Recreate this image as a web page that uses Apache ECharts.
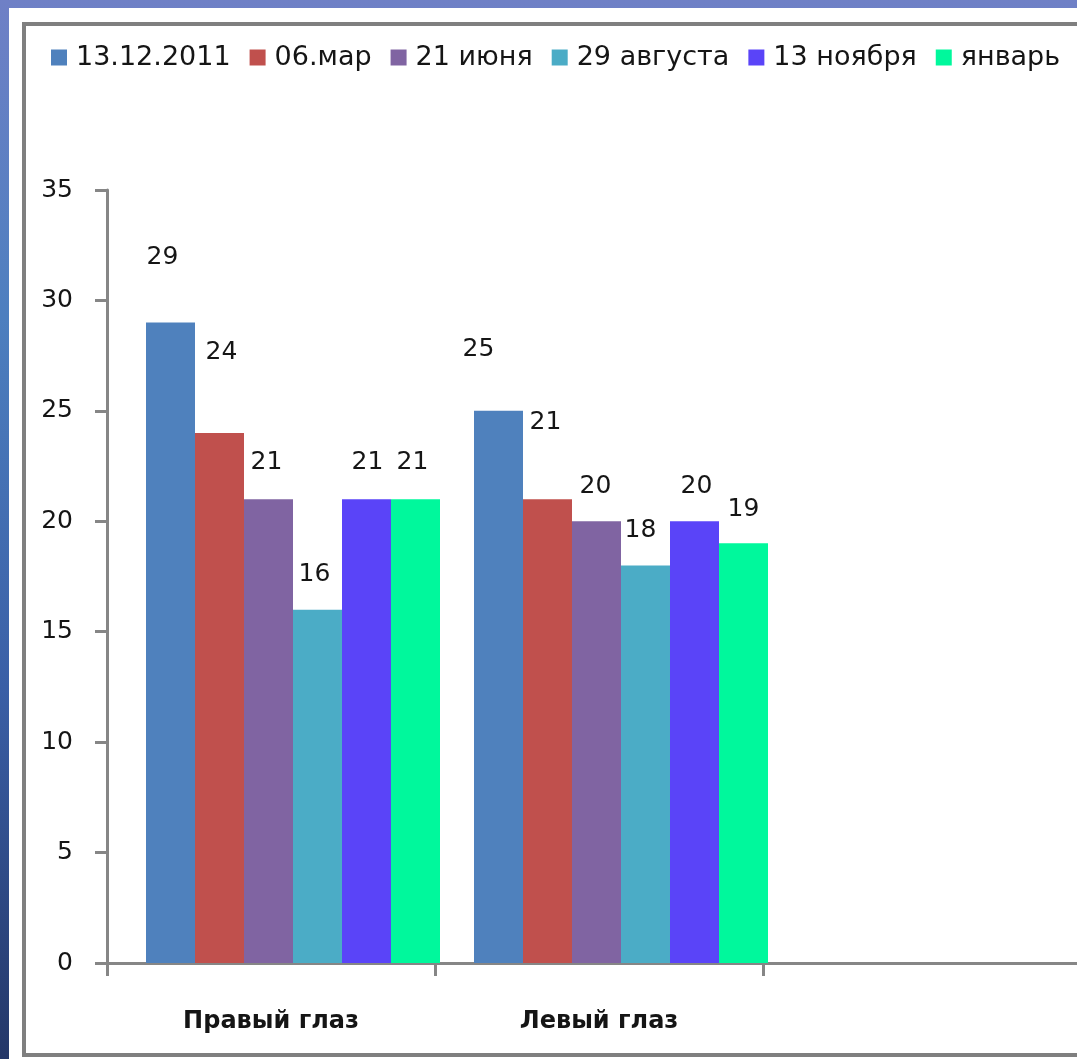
<!DOCTYPE html>
<html>
<head>
<meta charset="utf-8">
<title>Правый и левый глаз</title>
<script src="https://cdn.jsdelivr.net/npm/echarts@6/dist/echarts.min.js"></script>
<style>
  html, body { margin: 0; padding: 0; overflow: hidden; width: 1077px; height: 1059px; }
  /* The plot area continues past the right edge of the page */
  #chart { width: 1113px; height: 1059px; }
</style>
</head>
<body>
<div id="chart"></div>
<script>
// Categories (the third slot is left empty on purpose)
const categories = ['Правый глаз', 'Левый глаз', ''];

// Measurement dates
const seriesNames = ['13.12.2011', '06.мар', '21 июня', '29 августа', '13 ноября', 'январь'];

// Values per date: [right eye, left eye]
const v20111213 = [29, 25];
const vMar06 = [24, 21];
const vJun21 = [21, 20];
const vAug29 = [16, 18];
const vNov13 = [21, 20];
const vJanuary = [21, 19];

// Y axis range
const yMin = 0;
const yMax = 35;
const yStep = 5;

// Styling
const seriesColors = ['#4F81BD', '#C0504D', '#8064A2', '#4BACC6', '#5A44F8', '#00F89C'];
const axisGray = '#868686';
const font = 'DejaVu Sans';

// Hand-placed label nudges [dx, dy] for each bar, per series
const labelNudges = [
  [[-8, -48], [-20, -44]],
  [[2, -63], [-2, -59]],
  [[-2, -19], [-1, -17]],
  [[-3, -18], [-5, -17]],
  [[1, -19], [2, -17]],
  [[-3, -19], [0, -16]]
];

const seriesValues = [v20111213, vMar06, vJun21, vAug29, vNov13, vJanuary];

const series = seriesNames.map((name, i) => ({
  name: name,
  type: 'bar',
  xAxisIndex: 1,
  yAxisIndex: 1,
  barWidth: 49,
  barGap: '0%',
  itemStyle: { color: seriesColors[i] },
  label: {
    show: true,
    position: 'top',
    distance: 5,
    fontFamily: font,
    fontSize: 25,
    color: '#151515'
  },
  data: seriesValues[i].map((v, j) => ({
    value: v,
    label: { offset: labelNudges[i][j] }
  }))
}));

const chart = echarts.init(document.getElementById('chart'), null, { renderer: 'canvas' });

chart.setOption({
  animation: false,
  backgroundColor: 'transparent',
  textStyle: { fontFamily: font },
  graphic: [
    {
      type: 'rect',
      z: -100,
      silent: true,
      shape: { x: 0, y: 0, width: 1113, height: 1059 },
      style: {
        fill: new echarts.graphic.LinearGradient(0, 0, 0, 1, [
          { offset: 0, color: '#6f80c6' },
          { offset: 0.3, color: '#4d7fbf' },
          { offset: 0.65, color: '#3a5fa6' },
          { offset: 1, color: '#243768' }
        ])
      }
    },
    {
      type: 'rect',
      z: -99,
      silent: true,
      shape: { x: 9, y: 8, width: 1120, height: 1100 },
      style: { fill: '#ffffff' }
    },
    {
      type: 'rect',
      z: -98,
      silent: true,
      shape: { x: 24, y: 24, width: 1120, height: 1031 },
      style: { fill: 'none', stroke: '#7f7f7f', lineWidth: 4 }
    }
  ],
  legend: {
    data: seriesNames,
    left: 46,
    top: 39,
    icon: 'rect',
    itemWidth: 16,
    itemHeight: 16,
    itemGap: 19,
    textStyle: {
      fontFamily: font,
      fontSize: 27,
      color: '#151515',
      padding: [0, 0, 0, 4]
    }
  },
  grid: [
    { left: 107, right: 22, top: 190, bottom: 96 },
    { left: 129, right: 0, top: 190, bottom: 96 }
  ],
  xAxis: [
    {
      type: 'category',
      gridIndex: 0,
      data: categories,
      boundaryGap: true,
      axisLine: { show: true, lineStyle: { color: axisGray, width: 3 } },
      axisTick: { show: true, length: 13, lineStyle: { color: axisGray, width: 3 } },
      axisLabel: {
        margin: 47,
        fontFamily: font,
        fontSize: 24,
        fontWeight: 'bold',
        color: '#151515'
      },
      splitLine: { show: false }
    },
    {
      type: 'category',
      gridIndex: 1,
      data: categories,
      show: false
    }
  ],
  yAxis: [
    {
      type: 'value',
      gridIndex: 0,
      min: yMin,
      max: yMax,
      interval: yStep,
      axisLine: { show: true, lineStyle: { color: axisGray, width: 3 } },
      axisTick: { show: true, length: 12, lineStyle: { color: axisGray, width: 3 } },
      axisLabel: {
        margin: 34,
        fontFamily: font,
        fontSize: 25,
        color: '#151515'
      },
      splitLine: { show: false }
    },
    {
      type: 'value',
      gridIndex: 1,
      min: yMin,
      max: yMax,
      interval: yStep,
      show: false,
      splitLine: { show: false }
    }
  ],
  series: series
});
</script>
</body>
</html>
